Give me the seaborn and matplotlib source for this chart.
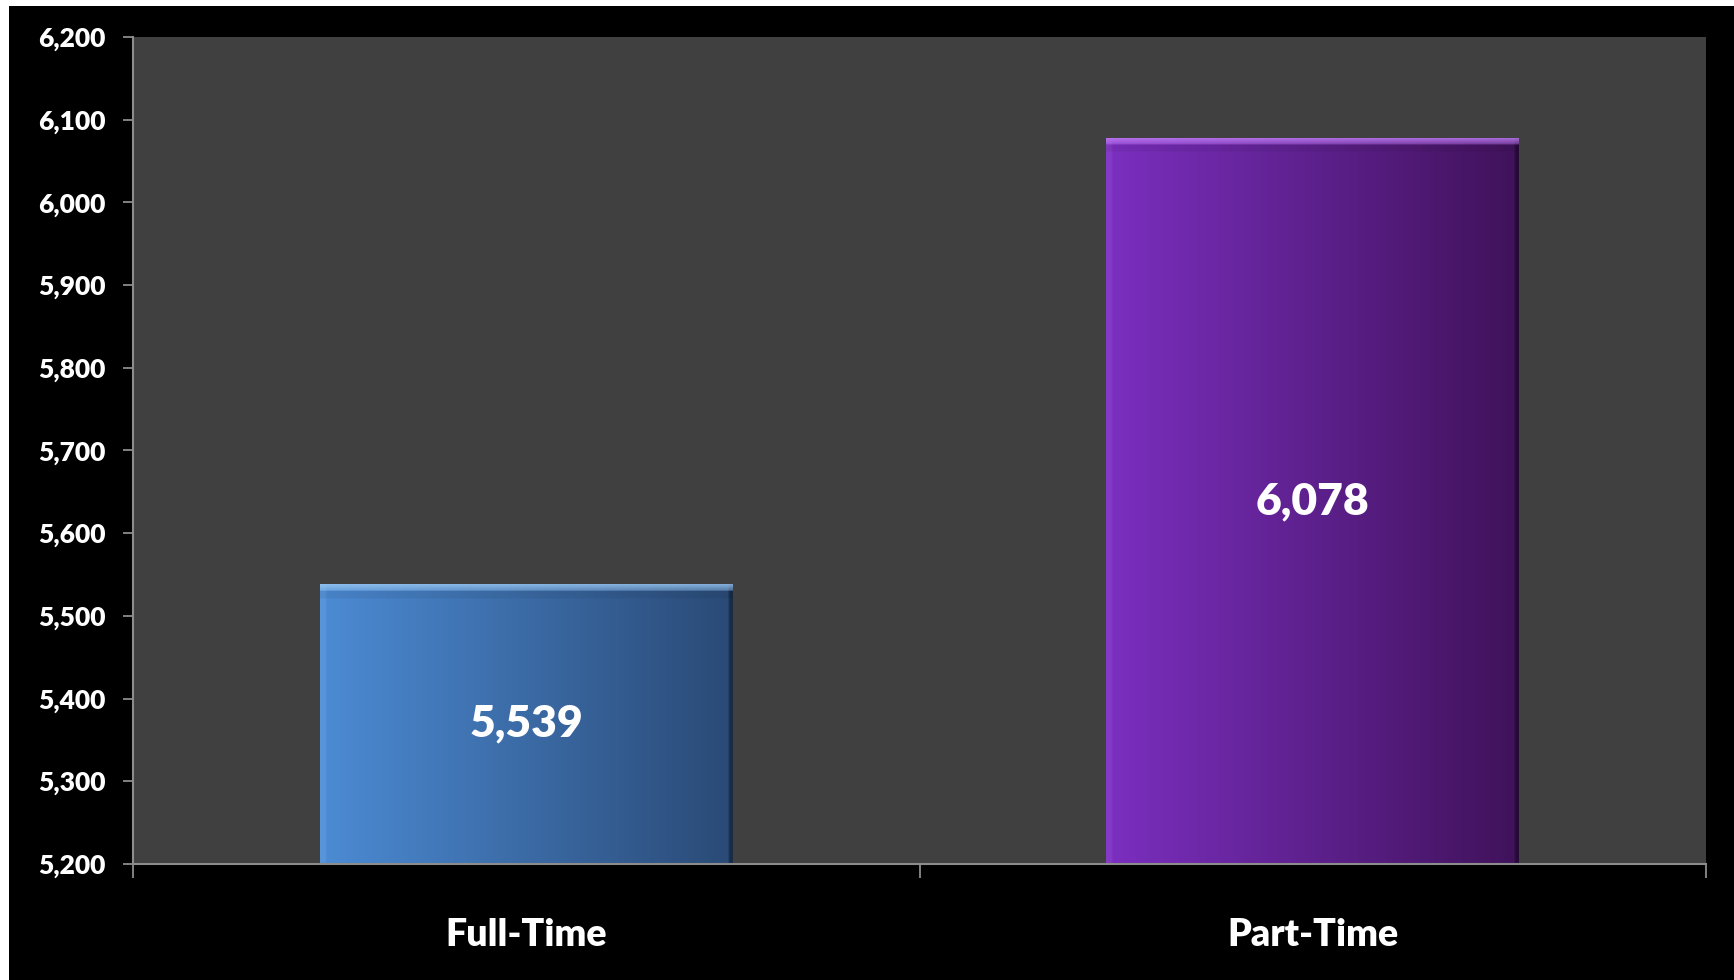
import numpy as np
import pandas as pd
import matplotlib.pyplot as plt
import matplotlib.ticker as ticker
from matplotlib.colors import to_rgb
from matplotlib.patches import Rectangle
import seaborn as sns

# ── Data ──────────────────────────────────────────────────────────────────────
categories = ["Full-Time", "Part-Time"]
values = [5539, 6078]
y_ticks = list(range(5200, 6201, 100))

# gradient colours for each bar (left edge -> right edge)
left_colors = ["#4c8bd4", "#7b2fc0"]
right_colors = ["#2a4a76", "#40125a"]
top_colors = ["#9ccaf4", "#c07cf4"]

df = pd.DataFrame({"status": categories, "count": values})

# ── Style ─────────────────────────────────────────────────────────────────────
sns.set_theme(style="white")
plt.rcParams["font.family"] = ["Lato", "DejaVu Sans"]

W, H = 1734, 980
fig = plt.figure(figsize=(W / 100, H / 100), dpi=100, facecolor="white")
# black panel (the reference has a thin white strip top and left)
fig.patches.append(Rectangle((9 / W, 0), 1, 1 - 6 / H, transform=fig.transFigure,
                             facecolor="black", edgecolor="none", zorder=-10))

ax = fig.add_axes([133 / W, 1 - 864 / H, (1706 - 133) / W, (864 - 37) / H])
ax.set_zorder(1)
ax.set_facecolor("#404040")

sns.barplot(data=df, x="status", y="count", ax=ax, width=0.525,
            color="#4c8bd4", saturation=1, edgecolor="none")

ymin, ymax = 5200, 6200
ax.set_ylim(ymin, ymax)
ax.set_xlim(-0.5, len(categories) - 0.5)

# ── Gradient fill over each bar ───────────────────────────────────────────────
fig.canvas.draw()
px_per_unit = ax.get_window_extent().height / (ymax - ymin)
for patch, lc, rc, tc, v in zip(list(ax.patches), left_colors, right_colors, top_colors, values):
    x0, w = patch.get_x(), patch.get_width()
    nrows = 400
    ncols = 200
    t = np.linspace(0, 1, ncols)[None, :, None]
    row = (1 - t) * np.array(to_rgb(lc)) + t * np.array(to_rgb(rc))
    img = np.repeat(row, nrows, axis=0)
    # light strip on the left edge, dark rim on the right edge
    img[:, :3] = img[:, :3] * 0.85 + 0.15 * np.array(to_rgb(tc))
    img[:, -2:] = img[:, -2:] * 0.6
    # bevel highlight along the top edge
    bar_px = (v - ymin) * px_per_unit
    bevel = max(1, int(round(nrows * 8 / bar_px)))
    shade = max(1, int(round(nrows * 8 / bar_px)))
    for i in range(bevel):
        a = 0.85 - 0.5 * i / bevel
        img[i] = (1 - a) * img[i] + a * np.array(to_rgb(tc))
    for i in range(bevel, bevel + shade):
        img[i] = img[i] * 0.94
    im = ax.imshow(img, extent=[x0, x0 + w, ymin, v], aspect="auto",
                   origin="upper", zorder=patch.get_zorder() + 0.1,
                   interpolation="bilinear")
    im.set_clip_path(patch)
    # value label centred in the visible bar
    ax.text(x0 + w / 2, (ymin + v) / 2, f"{v:,}", ha="center", va="center",
            color="white", fontsize=32, fontweight="heavy", zorder=5)

ax.set_ylim(ymin, ymax)
ax.set_xlim(-0.5, len(categories) - 0.5)

# ── Axes ──────────────────────────────────────────────────────────────────────
ax.set_yticks(y_ticks)
ax.yaxis.set_major_formatter(ticker.StrMethodFormatter("{x:,.0f}"))
ax.tick_params(axis="y", colors="#8c8c8c", direction="out", length=7.5, width=1.3,
               pad=12, labelsize=19, labelcolor="white", left=True)
for lab in ax.get_yticklabels():
    lab.set_fontweight("heavy")

ax.set_xticks(range(len(categories)))
ax.set_xticklabels(categories, fontsize=27, fontweight="heavy", color="white")
ax.tick_params(axis="x", length=0, pad=39)
ax.set_xticks(np.arange(-0.5, len(categories), 1.0), minor=True)
ax.tick_params(axis="x", which="minor", bottom=True, direction="out",
               length=10, width=1.3, color="#8c8c8c")

for side in ["top", "right"]:
    ax.spines[side].set_visible(False)
for side in ["left", "bottom"]:
    ax.spines[side].set_visible(True)
    ax.spines[side].set_color("#8c8c8c")
    ax.spines[side].set_linewidth(1.5)

ax.set_xlabel("")
ax.set_ylabel("")
ax.grid(False)

fig.savefig("out.png", dpi=100, facecolor=fig.get_facecolor())
